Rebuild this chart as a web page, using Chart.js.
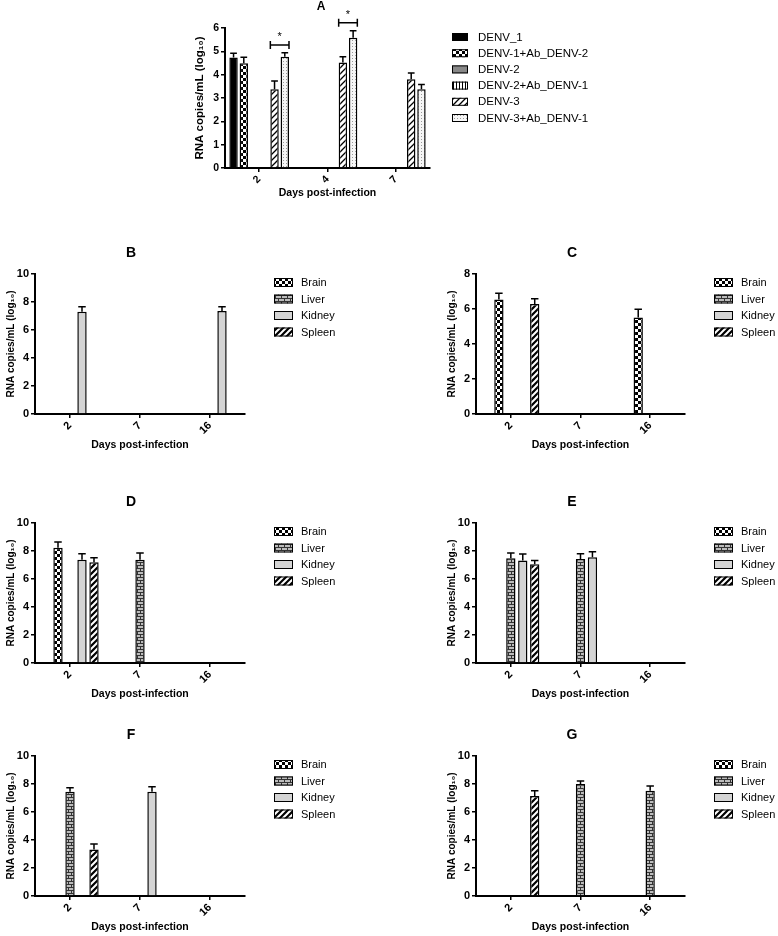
<!DOCTYPE html>
<html>
<head>
<meta charset="utf-8">
<script src="https://cdn.jsdelivr.net/npm/chart.js@4.4.1/dist/chart.umd.min.js"></script>
<style>
  html, body { margin: 0; padding: 0; background: #fff; }
  #page { position: relative; width: 778px; height: 936px; overflow: hidden; }
  canvas { position: absolute; }
</style>
</head>
<body>
<div id="page">
  <canvas id="chartA" width="460" height="210" style="left:150px;top:0px"></canvas>
  <canvas id="chartB" width="380" height="235" style="left:0px;top:230px"></canvas>
  <canvas id="chartC" width="398" height="235" style="left:380px;top:230px"></canvas>
  <canvas id="chartD" width="380" height="235" style="left:0px;top:470px"></canvas>
  <canvas id="chartE" width="398" height="235" style="left:380px;top:470px"></canvas>
  <canvas id="chartF" width="380" height="231" style="left:0px;top:705px"></canvas>
  <canvas id="chartG" width="398" height="231" style="left:380px;top:705px"></canvas>
</div>
<script>
// Panel A - serotypes
const daysA = ['2', '4', '7'];
const denv1 = [4.74, null, null];
const denv1Err = [0.18, null, null];
const denv1AbDenv2 = [4.49, null, null];
const denv1AbDenv2Err = [0.26, null, null];
const denv2 = [null, null, null];
const denv2AbDenv1 = [null, null, null];
const denv3 = [3.37, 4.52, 3.8];
const denv3Err = [0.36, 0.25, 0.27];
const denv3AbDenv1 = [4.77, 5.58, 3.38];
const denv3AbDenv1Err = [0.17, 0.3, 0.2];
// significance brackets in A (category, level)
const sigDays = ['2', '4'];
const sigLevels = [5.27, 6.23];

// Panels B-G - organs
const daysOrgan = ['2', '7', '16'];

const brainB = [null, null, null];
const liverB = [null, null, null];
const kidneyB = [7.3, null, 7.36];
const kidneyErrB = [0.36, null, 0.3];
const spleenB = [null, null, null];

const brainC = [6.55, null, 5.52];
const brainErrC = [0.35, null, 0.46];
const liverC = [null, null, null];
const kidneyC = [null, null, null];
const spleenC = [6.28, null, null];
const spleenErrC = [0.3, null, null];

const brainD = [8.24, null, null];
const brainErrD = [0.4, null, null];
const liverD = [null, 7.38, null];
const liverErrD = [null, 0.48, null];
const kidneyD = [7.38, null, null];
const kidneyErrD = [0.43, null, null];
const spleenD = [7.19, null, null];
const spleenErrD = [0.33, null, null];

const brainE = [null, null, null];
const liverE = [7.49, 7.42, null];
const liverErrE = [0.36, 0.38, null];
const kidneyE = [7.32, 7.56, null];
const kidneyErrE = [0.46, 0.38, null];
const spleenE = [7.06, null, null];
const spleenErrE = [0.26, null, null];

const brainF = [null, null, null];
const liverF = [7.45, null, null];
const liverErrF = [0.29, null, null];
const kidneyF = [null, 7.45, null];
const kidneyErrF = [null, 0.35, null];
const spleenF = [3.33, null, null];
const spleenErrF = [0.38, null, null];

const brainG = [null, null, null];
const liverG = [null, 8.0, 7.52];
const liverErrG = [null, 0.21, 0.34];
const kidneyG = [null, null, null];
const spleenG = [7.14, null, null];
const spleenErrG = [0.38, null, null];

Chart.defaults.font.family = '"Liberation Sans", Arial, sans-serif';
Chart.defaults.color = '#000';

// Fill patterns
function makePattern(w, h, draw) {
    const c = document.createElement('canvas');
    c.width = w;
    c.height = h;
    const g = c.getContext('2d');
    draw(g, w, h);
    return g.createPattern(c, 'repeat');
}

function hatch(bg, fg, s, lw) {
    return makePattern(s, s, (g) => {
        g.fillStyle = bg;
        g.fillRect(0, 0, s, s);
        g.strokeStyle = fg;
        g.lineWidth = lw;
        g.beginPath();
        [-s, 0, s].forEach(o => {
            g.moveTo(o - 1, s + 1);
            g.lineTo(o + s + 1, -1);
        });
        g.stroke();
    });
}

const checker = makePattern(6, 6, (g) => {
    g.fillStyle = '#000';
    g.fillRect(0, 0, 6, 6);
    g.fillStyle = '#fff';
    g.fillRect(0, 0, 3, 3);
    g.fillRect(3, 3, 3, 3);
});
const brick = makePattern(6, 6, (g) => {
    g.fillStyle = '#333';
    g.fillRect(0, 0, 6, 6);
    g.fillStyle = '#bcbcbc';
    g.fillRect(0, 0, 5, 2);
    g.fillRect(3, 3, 3, 2);
    g.fillRect(0, 3, 2, 2);
});
const dots = makePattern(3, 3, (g) => {
    g.fillStyle = '#f6f6f6';
    g.fillRect(0, 0, 3, 3);
    g.fillStyle = '#9a9a9a';
    g.fillRect(1, 1, 1, 1);
});
const vStripes = makePattern(3, 1, (g) => {
    g.fillStyle = '#fff';
    g.fillRect(0, 0, 3, 1);
    g.fillStyle = '#000';
    g.fillRect(0, 0, 1, 1);
});
const darkHatch = hatch('#000', '#fff', 6, 2);
const lightHatch = hatch('#fff', '#000', 6, 1.3);

// Extras: error bars, significance, panel letter, legend
const panelExtras = {
    id: 'panelExtras',
    afterDatasetsDraw(chart) {
        const ctx = chart.ctx;
        const y = chart.scales.y;
        chart.data.datasets.forEach((ds, i) => {
            if (!ds.errors) return;
            chart.getDatasetMeta(i).data.forEach((bar, j) => {
                const v = ds.data[j];
                const e = ds.errors[j];
                if (v == null || e == null) return;
                const top = y.getPixelForValue(v + e);
                const cap = bar.width * 0.8;
                ctx.save();
                ctx.strokeStyle = '#000';
                ctx.lineWidth = 1.5;
                ctx.beginPath();
                ctx.moveTo(bar.x, bar.y);
                ctx.lineTo(bar.x, top);
                ctx.moveTo(bar.x - cap / 2, top);
                ctx.lineTo(bar.x + cap / 2, top);
                ctx.stroke();
                ctx.restore();
            });
        });
    },
    afterDraw(chart, args, opts) {
        const ctx = chart.ctx;
        const area = chart.chartArea;
        ctx.save();

        // panel letter
        ctx.fillStyle = '#000';
        ctx.textAlign = 'center';
        ctx.textBaseline = 'middle';
        ctx.font = 'bold ' + opts.titleSize + 'px "Liberation Sans", Arial, sans-serif';
        ctx.fillText(opts.title, area.left + 96, area.top - 21);

        // significance brackets
        (opts.brackets || []).forEach(b => {
            const idx = chart.data.labels.indexOf(b.day);
            const barA = chart.getDatasetMeta(b.from).data[idx];
            const barB = chart.getDatasetMeta(b.to).data[idx];
            const x1 = barA.x - barA.width / 2;
            const x2 = barB.x + barB.width / 2;
            const yy = chart.scales.y.getPixelForValue(b.level);
            ctx.strokeStyle = '#000';
            ctx.lineWidth = 1.5;
            ctx.beginPath();
            ctx.moveTo(x1, yy);
            ctx.lineTo(x2, yy);
            ctx.moveTo(x1, yy - 4);
            ctx.lineTo(x1, yy + 4);
            ctx.moveTo(x2, yy - 4);
            ctx.lineTo(x2, yy + 4);
            ctx.stroke();
            ctx.font = '11px "Liberation Sans", Arial, sans-serif';
            ctx.fillText('*', (x1 + x2) / 2, yy - 8);
        });

        // legend
        const lg = opts.legend;
        ctx.font = lg.font + 'px "Liberation Sans", Arial, sans-serif';
        ctx.textAlign = 'left';
        let row = 0;
        chart.data.datasets.forEach(ds => {
            if (!ds.label) return;
            const cy = area.top + lg.top + row * lg.step;
            const bx = area.right + lg.gap;
            ctx.fillStyle = ds.backgroundColor;
            ctx.fillRect(bx, cy - lg.boxH / 2, lg.boxW, lg.boxH);
            ctx.strokeStyle = '#000';
            ctx.lineWidth = 1;
            ctx.strokeRect(bx + 0.5, cy - lg.boxH / 2 + 0.5, lg.boxW - 1, lg.boxH - 1);
            ctx.fillStyle = '#000';
            ctx.fillText(ds.label, bx + lg.textGap, cy + 0.5);
            row++;
        });
        ctx.restore();
    }
};

function buildPanel(canvasId, p) {
    const ctx = document.getElementById(canvasId);
    return new Chart(ctx, {
        type: 'bar',
        data: { labels: p.labels, datasets: p.datasets },
        options: {
            responsive: false,
            animation: false,
            events: [],
            layout: { padding: p.padding },
            datasets: {
                bar: {
                    borderColor: '#000',
                    borderWidth: 1.5,
                    categoryPercentage: p.catPct,
                    barPercentage: p.barPct
                }
            },
            plugins: {
                legend: { display: false },
                tooltip: { enabled: false },
                panelExtras: {
                    title: p.title,
                    titleSize: p.titleSize,
                    brackets: p.brackets,
                    legend: p.legend
                }
            },
            scales: {
                x: {
                    grid: { drawOnChartArea: false, offset: false, tickLength: 4, color: '#000', lineWidth: 1.5 },
                    border: { display: true, color: '#000', width: 2 },
                    ticks: {
                        minRotation: 45,
                        maxRotation: 45,
                        padding: 1,
                        color: '#000',
                        font: { size: p.tickSize, weight: 'bold' }
                    },
                    title: {
                        display: true,
                        text: 'Days post-infection',
                        color: '#000',
                        padding: 0,
                        font: { size: 10.5, weight: 'bold' }
                    },
                    afterFit: (s) => { s.height = p.xh; }
                },
                y: {
                    min: 0,
                    max: p.yMax,
                    ticks: {
                        stepSize: p.step,
                        padding: 2,
                        color: '#000',
                        font: { size: p.tickSize, weight: 'bold' }
                    },
                    grid: { drawOnChartArea: false, tickLength: 4, color: '#000', lineWidth: 1.5 },
                    border: { display: true, color: '#000', width: 2 },
                    title: {
                        display: true,
                        text: 'RNA copies/mL (log\u2081\u2080)',
                        color: '#000',
                        padding: 0,
                        font: { size: p.yTitleSize, weight: 'bold' }
                    },
                    afterFit: (s) => { s.width = p.yw; }
                }
            }
        },
        plugins: [panelExtras]
    });
}

// Organ panels share the same series layout (empty first slot like the original)
function organDatasets(brain, brainErr, liver, liverErr, kidney, kidneyErr, spleen, spleenErr) {
    return [
        { label: '', data: [null, null, null], backgroundColor: '#fff' },
        { label: 'Brain', data: brain, errors: brainErr, backgroundColor: checker },
        { label: 'Liver', data: liver, errors: liverErr, backgroundColor: brick },
        { label: 'Kidney', data: kidney, errors: kidneyErr, backgroundColor: '#d4d4d4' },
        { label: 'Spleen', data: spleen, errors: spleenErr, backgroundColor: darkHatch }
    ];
}

const organLegend = { gap: 29, top: 8.5, step: 16.5, boxW: 19, boxH: 9, textGap: 27, font: 11 };

function organPanel(canvasId, title, yMax, padding, datasets) {
    return buildPanel(canvasId, {
        labels: daysOrgan,
        datasets: datasets,
        title: title,
        titleSize: 14,
        yMax: yMax,
        step: 2,
        padding: padding,
        yw: 30,
        xh: 37,
        catPct: 0.857,
        barPct: 0.78,
        tickSize: 11,
        yTitleSize: 10,
        legend: organLegend
    });
}

buildPanel('chartA', {
    labels: daysA,
    datasets: [
        { label: 'DENV_1', data: denv1, errors: denv1Err, backgroundColor: '#000' },
        { label: 'DENV-1+Ab_DENV-2', data: denv1AbDenv2, errors: denv1AbDenv2Err, backgroundColor: checker },
        { label: 'DENV-2', data: denv2, backgroundColor: '#888888' },
        { label: 'DENV-2+Ab_DENV-1', data: denv2AbDenv1, backgroundColor: vStripes },
        { label: 'DENV-3', data: denv3, errors: denv3Err, backgroundColor: lightHatch },
        { label: 'DENV-3+Ab_DENV-1', data: denv3AbDenv1, errors: denv3AbDenv1Err, backgroundColor: dots }
    ],
    title: 'A',
    titleSize: 12,
    brackets: sigDays.map((d, i) => ({ day: d, from: 4, to: 5, level: sigLevels[i] })),
    yMax: 6,
    step: 1,
    padding: { left: 43, top: 28, right: 180, bottom: 11 },
    yw: 32,
    xh: 31,
    catPct: 0.9,
    barPct: 0.82,
    tickSize: 10.5,
    yTitleSize: 11.5,
    legend: { gap: 22, top: 9, step: 16.2, boxW: 16, boxH: 8, textGap: 26, font: 11.5 }
});

organPanel('chartB', 'B', 10, { left: 5, top: 44, right: 135, bottom: 14 },
    organDatasets(brainB, null, liverB, null, kidneyB, kidneyErrB, spleenB, null));
organPanel('chartC', 'C', 8, { left: 66, top: 44, right: 93, bottom: 14 },
    organDatasets(brainC, brainErrC, liverC, null, kidneyC, null, spleenC, spleenErrC));
organPanel('chartD', 'D', 10, { left: 5, top: 53, right: 135, bottom: 5 },
    organDatasets(brainD, brainErrD, liverD, liverErrD, kidneyD, kidneyErrD, spleenD, spleenErrD));
organPanel('chartE', 'E', 10, { left: 66, top: 53, right: 93, bottom: 5 },
    organDatasets(brainE, null, liverE, liverErrE, kidneyE, kidneyErrE, spleenE, spleenErrE));
organPanel('chartF', 'F', 10, { left: 5, top: 51, right: 135, bottom: 3 },
    organDatasets(brainF, null, liverF, liverErrF, kidneyF, kidneyErrF, spleenF, spleenErrF));
organPanel('chartG', 'G', 10, { left: 66, top: 51, right: 93, bottom: 3 },
    organDatasets(brainG, null, liverG, liverErrG, kidneyG, null, spleenG, spleenErrG));
</script>
</body>
</html>
